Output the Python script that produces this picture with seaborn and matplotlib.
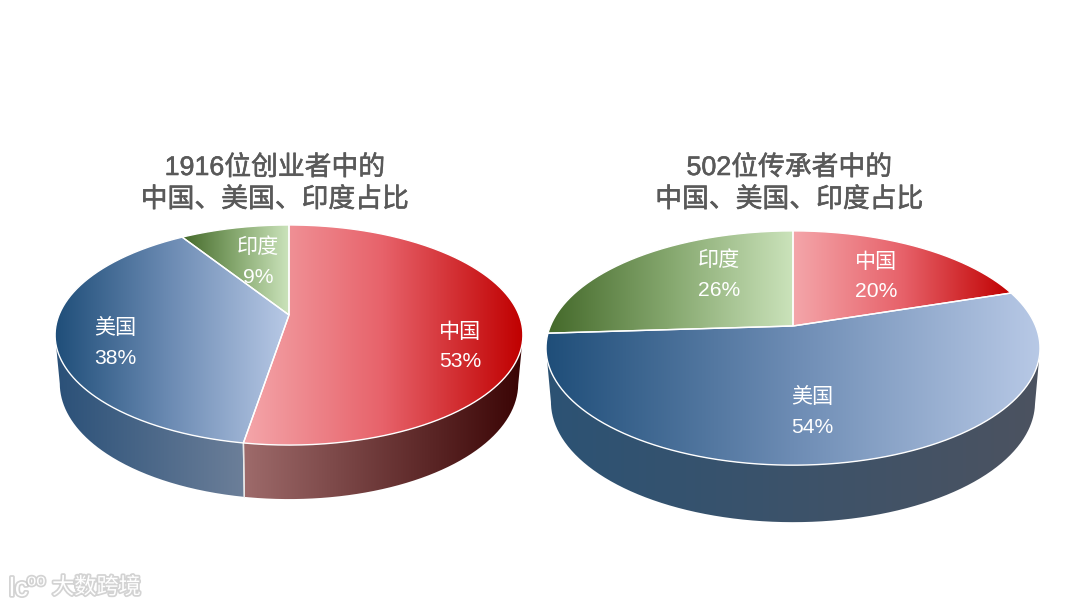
import numpy as np
import matplotlib
matplotlib.use('Agg')
import matplotlib.pyplot as plt
import matplotlib.patheffects as pe
from matplotlib.patches import PathPatch
from matplotlib.path import Path
import seaborn as sns

# data
countries = ['中国', '美国', '印度']
founders_pct = [52.6, 38.4, 9]
heirs_pct = [20, 54, 26]
title_founders = ['1916位创业者中的', '中国、美国、印度占比']
title_heirs = ['502位传承者中的', '中国、美国、印度占比']

# colours per slice: top face (dark to light stops), side (left, right)
top_colors = [('#f4a6aa', '#e7626a', '#c00000'),
              ('#1f4e79', '#6d8cb4', '#b8c9e6'),
              ('#44692a', '#86a86f', '#cbe3bb')]
side_founders = [('#9e6b6b', '#3a0404'), ('#2a5078', '#6c7f99'), ('#38552a', '#5f7a50')]
side_heirs = [('#7a3030', '#3a0404'), ('#2c5274', '#4c5360'), ('#38552a', '#5f7a50')]

sns.set_theme(style='white')
plt.rcParams['font.family'] = ['Liberation Sans', 'Noto Sans CJK SC', 'DejaVu Sans']

fig = plt.figure(figsize=(10.8, 6.08), dpi=100)
ax = fig.add_axes([0, 0, 1, 1])


def project(theta, geo, lower=False):
    # circle angle -> screen pixel, with the perspective of the tilted pie
    x, y = np.cos(theta), np.sin(theta)
    div = 1 + geo['k'] * y
    sx = geo['R'] * x / div
    sy = -geo['a'] * y / div
    if lower:
        sx = sx * geo['shrink']
        sy = sy + geo['d0'] - geo['d1'] * y
    return geo['cx'] + sx, geo['cy'] + sy


def gradient_fill(verts, colors, x0, x1, zorder):
    patch = PathPatch(Path(verts), facecolor='none', edgecolor='none', zorder=zorder)
    ax.add_patch(patch)
    cmap = sns.blend_palette(list(colors), as_cmap=True)
    grad = np.linspace(0, 1, 256).reshape(1, -1)
    ys = verts[:, 1]
    im = ax.imshow(grad, cmap=cmap, extent=(x0, x1, ys.max() + 1, ys.min() - 1),
                   aspect='auto', zorder=zorder, interpolation='bilinear')
    im.set_clip_path(patch)


def draw_pie(values, geo, sides, label_pos):
    labels = [f'{c}\n{v:.0f}%' for c, v in zip(countries, values)]
    wedges, texts = ax.pie(values, labels=labels, startangle=90, counterclock=False,
                           center=(geo['cx'], geo['cy']), radius=geo['R'])
    for i, w in enumerate(wedges):
        w.set_visible(False)
        th = np.radians(np.linspace(w.theta1, w.theta2, 400))
        tx, ty = project(th, geo)
        bx, by = project(th, geo, lower=True)

        # side wall, only the part of the rim facing the viewer
        front = np.sin(th) < -geo['k']
        if front.any():
            fx, fy = tx[front], ty[front]
            lx, ly = bx[front][::-1], by[front][::-1]
            side = np.column_stack([np.r_[fx, lx], np.r_[fy, ly]])
            gradient_fill(side, sides[i], fx.min(), fx.max(), 2)
            for j in (0, -1):
                if front[j]:
                    ax.plot([tx[j], bx[j]], [ty[j], by[j]], color='#e8e8e8', lw=1, zorder=3)

        # top face
        face = np.vstack([[geo['cx'], geo['cy']], np.column_stack([tx, ty]), [geo['cx'], geo['cy']]])
        gradient_fill(face, top_colors[i], face[:, 0].min(), face[:, 0].max(), 4)
        ax.add_patch(PathPatch(Path(face), facecolor='none', edgecolor='white', lw=1, zorder=5))

        texts[i].set(position=label_pos[i], ha='center', va='center', color='white',
                     fontsize=15.2, linespacing=1.7, zorder=6)


geo_left = dict(cx=289, cy=315, R=230, a=106.4, k=0.182, shrink=0.98, d0=47, d1=7)
geo_right = dict(cx=793, cy=326, R=242.6, a=113, k=0.188, shrink=0.98, d0=53, d1=4)

draw_pie(founders_pct, geo_left, side_founders, [(460, 347), (115, 343), (258, 262)])
draw_pie(heirs_pct, geo_right, side_heirs, [(876, 277), (812, 412), (719, 275)])

ax.set_xlim(0, 1080)
ax.set_ylim(608, 0)
ax.set_aspect('auto')
ax.axis('off')

# titles
for cx, lines in [(274.5, title_founders), (789, title_heirs)]:
    for y, line in zip((168, 200), lines):
        ax.text(cx, y, line, ha='center', va='center', color='#595959', fontsize=19.3,
                path_effects=[pe.withStroke(linewidth=0.4, foreground='#595959')])

# watermark
glow = [pe.withStroke(linewidth=2.5, foreground='#c8c8c8', alpha=0.8)]
ax.text(52, 588, '大数跨境', color='white', fontsize=16, ha='left', va='center', path_effects=glow)
ax.text(9, 589, 'lc', color='white', fontsize=19, ha='left', va='center', path_effects=glow)
ax.text(27, 581, 'oo', color='white', fontsize=12, ha='left', va='center', path_effects=glow)

fig.savefig('out.png', dpi=100)
